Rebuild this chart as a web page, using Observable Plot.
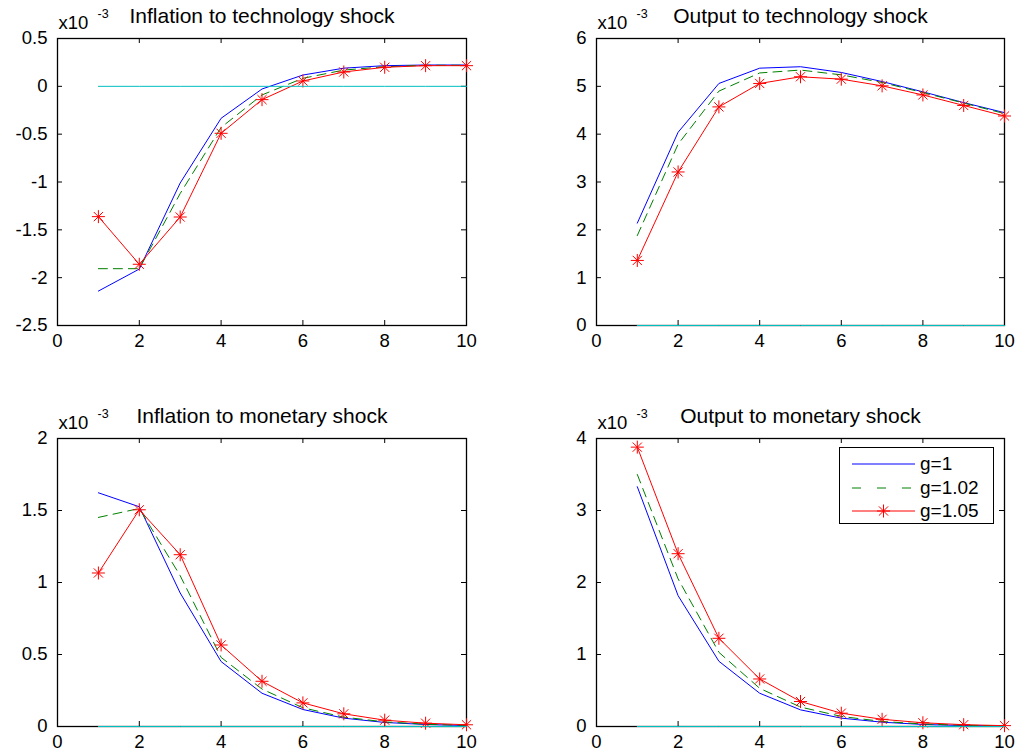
<!DOCTYPE html>
<html><head><meta charset="utf-8">
<script src="https://cdn.jsdelivr.net/npm/d3@7"></script>
<script src="https://cdn.jsdelivr.net/npm/@observablehq/plot@0.6"></script>
<style>
body{margin:0;background:#fff;}
#wrap{position:relative;width:1015px;height:756px;background:#fff;font-family:"Liberation Sans",Arial,sans-serif;overflow:hidden;}
.panel{position:absolute;}
#legend{position:absolute;left:839px;top:447px;width:153px;height:75px;border:1.5px solid #000;background:#fff;font-size:19px;}
.lrow{position:absolute;left:0;height:24px;width:153px;}
.lrow svg{position:absolute;left:12px;top:0;}
.lrow span{position:absolute;left:80px;top:1px;line-height:22px;}
</style></head><body><div id="wrap"></div>
<script>
const periods = [1,2,3,4,5,6,7,8,9,10];
const xTicks = [0,2,4,6,8,10];
const seriesNames = ["g=1","g=1.02","g=1.05"];
const zeroLine = [0,0,0,0,0,0,0,0,0,0];

// Inflation to technology shock (x10^-3)
const infTech_g1   = [-2.14,-1.91,-1.01,-0.334,-0.028,0.118,0.19,0.216,0.223,0.223];
const infTech_g102 = [-1.906,-1.906,-1.12,-0.43,-0.09,0.084,0.17,0.205,0.22,0.22];
const infTech_g105 = [-1.362,-1.86,-1.366,-0.491,-0.139,0.056,0.15,0.199,0.216,0.216];
const infTech_yTicks = [-2.5,-2,-1.5,-1,-0.5,0,0.5];

// Output to technology shock (x10^-3)
const outTech_g1   = [2.14,4.04,5.06,5.38,5.41,5.29,5.10,4.885,4.66,4.45];
const outTech_g102 = [1.88,3.79,4.9,5.28,5.34,5.24,5.08,4.87,4.65,4.43];
const outTech_g105 = [1.36,3.21,4.57,5.06,5.2,5.15,5.01,4.82,4.6,4.38];
const outTech_yTicks = [0,1,2,3,4,5,6];

// Inflation to monetary shock (x10^-3)
const infMon_g1   = [1.623,1.526,0.927,0.451,0.231,0.118,0.058,0.028,0.014,0.007];
const infMon_g102 = [1.452,1.514,1.047,0.48,0.26,0.13,0.065,0.032,0.016,0.008];
const infMon_g105 = [1.066,1.505,1.193,0.566,0.314,0.164,0.088,0.044,0.023,0.012];
const infMon_yTicks = [0,0.5,1,1.5,2];

// Output to monetary shock (x10^-3)
const outMon_g1   = [3.33,1.817,0.906,0.462,0.231,0.116,0.06,0.028,0.014,0.007];
const outMon_g102 = [3.5,2.05,1.03,0.53,0.27,0.14,0.07,0.035,0.018,0.009];
const outMon_g105 = [3.88,2.40,1.225,0.66,0.347,0.185,0.1,0.052,0.025,0.012];
const outMon_yTicks = [0,1,2,3,4];

const colors = ["#0000ff","#008000","#ff0000"];
const zeroColor = "#00bfbf";

// MATLAB-style '*' marker: a plus combined with a cross
const starSymbol = {
  draw(context, size) {
    const r = Math.sqrt(size / Math.PI);
    const d = r * Math.SQRT1_2;
    context.moveTo(-r, 0); context.lineTo(r, 0);
    context.moveTo(0, -r); context.lineTo(0, r);
    context.moveTo(-d, -d); context.lineTo(d, d);
    context.moveTo(-d, d); context.lineTo(d, -d);
  }
};

const panels = [
  {title:"Inflation to technology shock", series:[infTech_g1,infTech_g102,infTech_g105], yTicks:infTech_yTicks,
   left:0, top:0, width:507, height:378, ml:57, mr:41, mt:38, mb:53},
  {title:"Output to technology shock", series:[outTech_g1,outTech_g102,outTech_g105], yTicks:outTech_yTicks,
   left:507, top:0, width:508, height:378, ml:89, mr:11, mt:38, mb:53},
  {title:"Inflation to monetary shock", series:[infMon_g1,infMon_g102,infMon_g105], yTicks:infMon_yTicks,
   left:0, top:378, width:507, height:378, ml:57, mr:41, mt:60, mb:30},
  {title:"Output to monetary shock", series:[outMon_g1,outMon_g102,outMon_g105], yTicks:outMon_yTicks,
   left:507, top:378, width:508, height:378, ml:89, mr:11, mt:60, mb:30}
];

const wrap = document.getElementById("wrap");
for (const p of panels) {
  const fw = p.width - p.ml - p.mr, fh = p.height - p.mt - p.mb;
  const rows = p.series.map(vals => periods.map((t,i) => ({t, v: vals[i]})));
  const zeros = periods.map((t,i) => ({t, v: zeroLine[i]}));
  const yDomain = [p.yTicks[0], p.yTicks[p.yTicks.length-1]];
  const chart = Plot.plot({
    width: p.width, height: p.height,
    marginLeft: p.ml, marginRight: p.mr, marginTop: p.mt, marginBottom: p.mb,
    x: {domain:[0,10]},
    y: {domain: yDomain},
    style: {fontFamily:"Liberation Sans, Arial, sans-serif", fontSize:"18.5px", background:"transparent", overflow:"visible", color:"#000"},
    marks: [
      Plot.frame({stroke:"#000", strokeWidth:1.3}),
      Plot.tickX(xTicks, {x:d=>d, insetTop: fh-5, stroke:"#000"}),
      Plot.tickX(xTicks, {x:d=>d, insetBottom: fh-5, stroke:"#000"}),
      Plot.tickY(p.yTicks, {y:d=>d, insetRight: fw-5, stroke:"#000"}),
      Plot.tickY(p.yTicks, {y:d=>d, insetLeft: fw-5, stroke:"#000"}),
      Plot.axisX({ticks:xTicks, tickSize:0, tickPadding:8, tickFormat:d=>String(d), label:null, fill:"#000", fontSize:18.5}),
      Plot.axisY({ticks:p.yTicks, tickSize:0, tickPadding:10, tickFormat:d=>String(d), label:null, fill:"#000", fontSize:18.5}),
      Plot.line(rows[0], {x:"t", y:"v", stroke:colors[0], strokeWidth:1}),
      Plot.line(rows[1], {x:"t", y:"v", stroke:colors[1], strokeWidth:1, strokeDasharray:"9,6"}),
      Plot.line(rows[2], {x:"t", y:"v", stroke:colors[2], strokeWidth:1}),
      Plot.dot(rows[2], {x:"t", y:"v", stroke:colors[2], fill:"none", symbol:starSymbol, r:6.5, strokeWidth:1}),
      Plot.line(zeros, {x:"t", y:"v", stroke:zeroColor, strokeWidth:1}),
      Plot.text([p.title], {text:d=>d, frameAnchor:"top", lineAnchor:"bottom", dy:-16, fill:"#000", fontSize:21}),
      Plot.text(["x10"], {text:d=>d, frameAnchor:"top-left", textAnchor:"start", lineAnchor:"bottom", dx:1, dy:-10, fill:"#000", fontSize:18.5}),
      Plot.text(["-3"], {text:d=>d, frameAnchor:"top-left", textAnchor:"start", lineAnchor:"bottom", dx:40, dy:-21, fontSize:12.5, fill:"#000"})
    ]
  });
  chart.classList.add("panel");
  chart.style.left = p.left + "px";
  chart.style.top = p.top + "px";
  wrap.appendChild(chart);
}

// legend
const legend = document.createElement("div");
legend.id = "legend";
seriesNames.forEach((name, i) => {
  const row = document.createElement("div");
  row.className = "lrow";
  row.style.top = (4 + i*23.5) + "px";
  const dash = i === 1 ? 'stroke-dasharray="9,16"' : "";
  const star = i === 2 ? `<g stroke="${colors[2]}" stroke-width="1"><line x1="31.5" y1="5.5" x2="31.5" y2="18.5"/><line x1="25" y1="12" x2="38" y2="12"/><line x1="26.9" y1="7.4" x2="36.1" y2="16.6"/><line x1="26.9" y1="16.6" x2="36.1" y2="7.4"/></g>` : "";
  row.innerHTML = `<svg width="64" height="24"><line x1="0" y1="12" x2="63" y2="12" stroke="${colors[i]}" stroke-width="1" ${dash}/>${star}</svg><span>${name}</span>`;
  legend.appendChild(row);
});
wrap.appendChild(legend);
</script>
</body></html>
